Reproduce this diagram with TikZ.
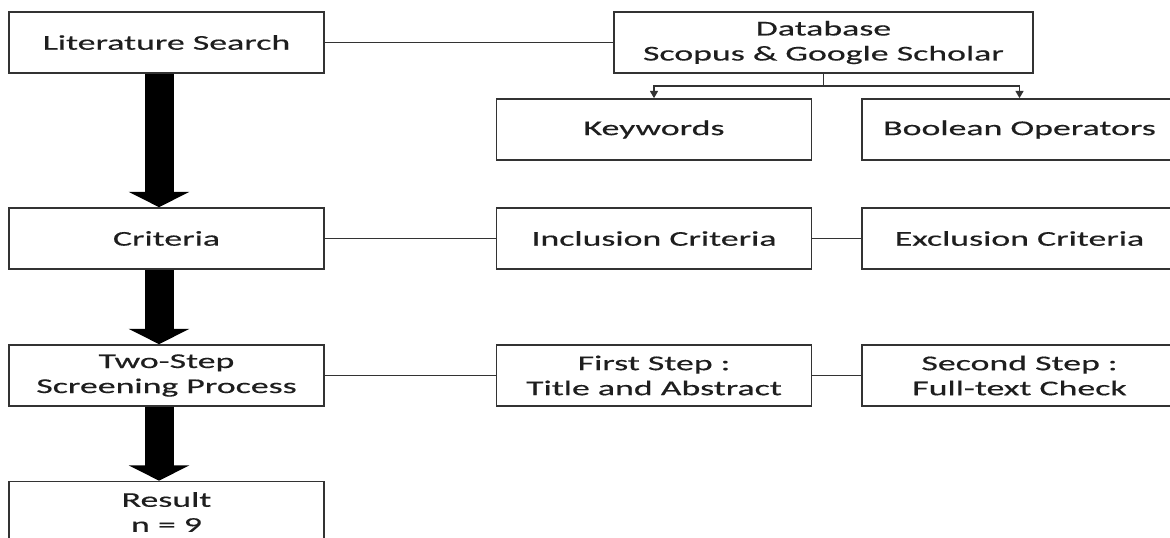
\documentclass[tikz,border=0pt]{standalone}
\usepackage{fontspec}
\setmainfont{Carlito}[FakeStretch=1.7,FakeBold=0.4]
\usetikzlibrary{arrows.meta}
\definecolor{boxline}{HTML}{333333}
\definecolor{boxtext}{HTML}{1E1E1E}
\begin{document}
\begin{tikzpicture}[x=0.75pt,y=-0.75pt,
    every node/.style={font=\fontsize{15.8}{18.75}\selectfont,text=boxtext}]
    \tikzset{
      stage/.style={draw=boxline,line width=1.2pt,fill=white,align=center,
        minimum width=236.25pt,minimum height=45.75pt,inner sep=0pt},
      wide/.style={stage,minimum width=314.25pt},
      link/.style={draw=boxline,line width=1.1pt},
      split/.style={link,-{Triangle[length=5.5pt,width=6pt]}},
      flow/.style={line width=21.75pt,-{Triangle[length=11.5pt 0,width=45pt 0]}}
    }
    \useasboundingbox (0,0) rectangle (1170,538);
    \clip (0,0) rectangle (1170,538);

    % main column
    \node[stage] (lit) at (166.5,42.5) {Literature Search};
    \node[stage] (crit) at (166.5,238.5) {Criteria};
    \node[stage] (two) at (166.5,375.5) {Two-Step\\Screening Process};
    \node[stage] (res) at (166.5,512) {Result\\n = 9};

    % search branch
    \node[wide] (db) at (823.5,42.5) {Database\\Scopus \& Google Scholar};
    \node[stage] (kw) at (654,129.5) {Keywords};
    \node[stage] (bool) at (1019.5,129.5) {Boolean Operators};
    \coordinate (fork) at (823.5,86);

    % criteria branch
    \node[stage] (inc) at (654,238.5) {Inclusion Criteria};
    \node[stage] (exc) at (1019.5,238.5) {Exclusion Criteria};

    % screening branch
    \node[stage] (first) at (654,375.5) {First Step :\\Title and Abstract};
    \node[stage] (second) at (1019.5,375.5) {Second Step :\\Full-text Check};

    \draw[link] (lit.east) -- (db.west);
    \draw[link] (db.south) -- (fork);
    \draw[split] (fork) -| (kw.north);
    \draw[split] (fork) -| (bool.north);
    \draw[link] (crit.east) -- (inc.west);
    \draw[link] (inc.east) -- (exc.west);
    \draw[link] (two.east) -- (first.west);
    \draw[link] (first.east) -- (second.west);

    \draw[flow] ([xshift=-5.6pt]lit.south) -- ([xshift=-5.6pt]crit.north);
    \draw[flow] ([xshift=-5.6pt]crit.south) -- ([xshift=-5.6pt]two.north);
    \draw[flow] ([xshift=-5.6pt]two.south) -- ([xshift=-5.6pt]res.north);
  \end{tikzpicture}
\end{document}
